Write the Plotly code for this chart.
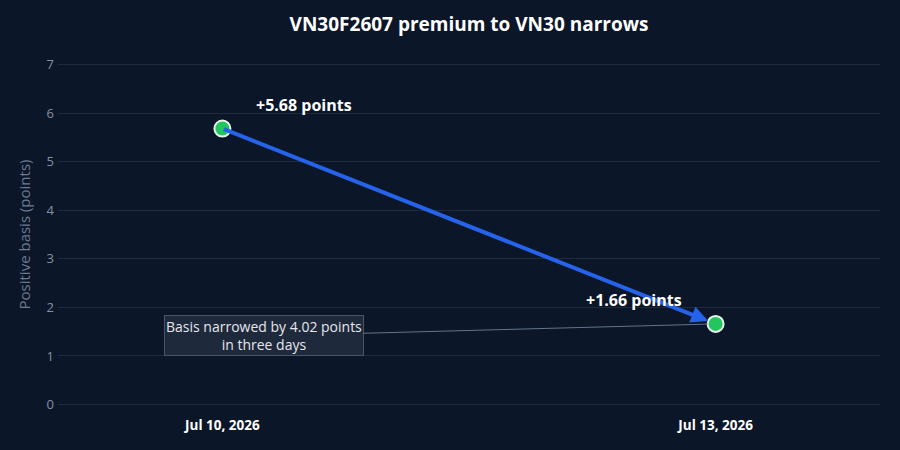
import plotly.graph_objects as go

dates = ["2026-07-10", "2026-07-13"]
basis = [5.68, 1.66]
tick_labels = ["Jul 10, 2026", "Jul 13, 2026"]
point_labels = ["+5.68 points", "+1.66 points"]
note_text = "Basis narrowed by 4.02 points<br>in three days"

BG = "#0b1628"
FONT = "Open Sans"

fig = go.Figure()
fig.add_trace(go.Scatter(
    x=dates, y=basis, mode="markers",
    marker=dict(size=16, color="#22c55e", line=dict(color="#e8f5ec", width=2)),
    showlegend=False, hoverinfo="x+y",
))

# blue arrow between the points
fig.add_annotation(
    x=dates[1], y=basis[1], ax=dates[0], ay=basis[0],
    xref="x", yref="y", axref="x", ayref="y",
    text="", showarrow=True, arrowhead=2, arrowsize=0.85, arrowwidth=4,
    arrowcolor="#2563eb", standoff=8, startstandoff=0,
)

# point labels
shifts = [(82, 24), (-82, 24)]
for d, v, t, (xs, ys) in zip(dates, basis, point_labels, shifts):
    fig.add_annotation(
        x=d, y=v, xref="x", yref="y", text=f"<b>{t}</b>", showarrow=False,
        xshift=xs, yshift=ys, font=dict(size=16, color="#ffffff", family=FONT),
    )

# note box
fig.add_annotation(
    x=dates[1], y=basis[1], xref="x", yref="y", text=note_text,
    showarrow=True, ax=-452, ay=12, arrowhead=0, arrowwidth=1,
    arrowcolor="#64748b", standoff=8,
    font=dict(size=14, color="#e5e7eb", family=FONT),
    bgcolor="#1e293b", bordercolor="#475569", borderwidth=1, borderpad=1,
    align="center",
)

fig.update_layout(
    width=900, height=450,
    paper_bgcolor=BG, plot_bgcolor=BG,
    margin=dict(l=58, r=20, t=62, b=43),
    font=dict(family=FONT, color="#94a3b8"),
    title=dict(text="<b>VN30F2607 premium to VN30 narrows</b>", x=0.5, xref="paper", xanchor="center",
               y=0.945, yanchor="middle",
               font=dict(size=19, color="#ffffff", family=FONT)),
    xaxis=dict(
        type="date", range=["2026-07-09", "2026-07-14"],
        tickvals=dates, ticktext=[f"<b>{t}</b>" for t in tick_labels],
        tickfont=dict(size=13.5, color="#ffffff"),
        showgrid=False, zeroline=False, showline=False, ticks="",
        ticklabelstandoff=8,
    ),
    yaxis=dict(
        range=[-0.05, 7.05], tickvals=[0, 1, 2, 3, 4, 5, 6, 7],
        title=dict(text="Positive basis (points)", font=dict(size=15, color="#6b7a90"), standoff=12),
        tickfont=dict(size=13, color="#8491a5"),
        gridcolor="#1f2b3d", zeroline=False, showline=False, ticks="",
        ticklabelstandoff=3,
    ),
)

fig.write_html("out.html")
